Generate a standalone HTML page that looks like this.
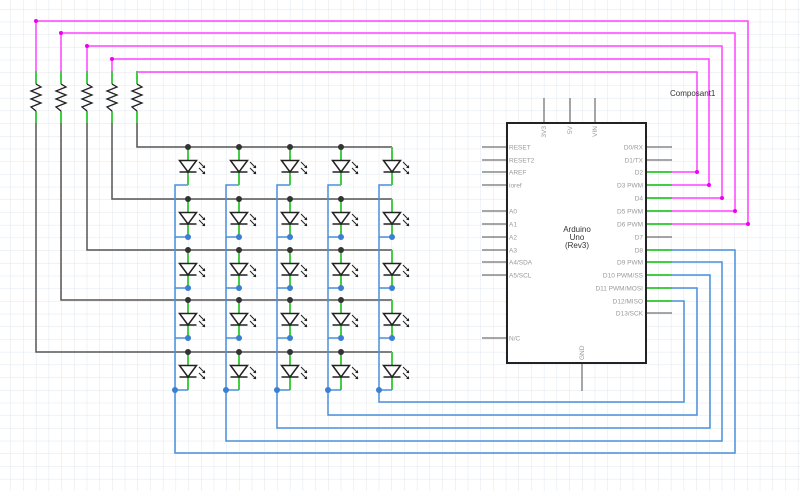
<!DOCTYPE html>
<html><head><meta charset="utf-8"><style>
html,body{margin:0;padding:0;background:#fff;}
svg{display:block;font-family:"Liberation Sans",sans-serif;}
</style></head><body>
<svg width="800" height="491" viewBox="0 0 800 491" xmlns="http://www.w3.org/2000/svg">
<defs>
<pattern id="g" x="10.5" y="9" width="12.7" height="12.7" patternUnits="userSpaceOnUse">
<path d="M0 0V12.7M0 0H12.7" stroke="#e0e7ee" stroke-width="1" fill="none"/>
</pattern>
<g id="led">
 <line x1="0" y1="0" x2="0" y2="13" stroke="#4c4" stroke-width="2"/>
 <line x1="0" y1="25" x2="0" y2="38" stroke="#4c4" stroke-width="2"/>
 <path d="M-8.5 13.5H8.5L0 25Z" fill="#fff" stroke="#222" stroke-width="1.5"/>
 <line x1="-8.5" y1="25" x2="8.5" y2="25" stroke="#222" stroke-width="1.5"/>
 <path d="M11 15l6 6M11 21l6 6" stroke="#222" stroke-width="1"/>
 <path d="M17 21l-3 0 3-3zM17 27l-3 0 3-3z" fill="#222"/>
</g>
<g id="res">
 <line x1="0" y1="71" x2="0" y2="84" stroke="#4c4" stroke-width="2"/>
 <line x1="0" y1="111" x2="0" y2="123" stroke="#4c4" stroke-width="2"/>
 <path d="M0 84L5 87L-5 91L5 95L-5 99L5 103L-5 107L0 111" fill="none" stroke="#222" stroke-width="1.3"/>
</g>
</defs>
<rect width="800" height="491" fill="url(#g)"/>

<g stroke="#f4f" stroke-width="1.5" fill="none">
<path d="M36 71V21H748V224H672"/>
<path d="M61 71V33H735V211H672"/>
<path d="M87 71V46H722V198H672"/>
<path d="M112 71V59H709V185H672"/>
<path d="M137 71V72H697V172H672"/>
</g>
<g fill="#e0e">
<circle cx="36" cy="21" r="2"/><circle cx="61" cy="33" r="2"/><circle cx="87" cy="46" r="2"/><circle cx="112" cy="59" r="2"/>
<circle cx="748" cy="224" r="2"/><circle cx="735" cy="211" r="2"/><circle cx="722" cy="198" r="2"/><circle cx="709" cy="185" r="2"/><circle cx="697" cy="172" r="2"/>
</g>

<use href="#res" x="36"/><use href="#res" x="61"/><use href="#res" x="87"/><use href="#res" x="112"/><use href="#res" x="137"/>

<g stroke="#555" stroke-width="1.5" fill="none">
<path d="M137 123V147H392"/>
<path d="M112 123V199H392"/>
<path d="M87 123V250H392"/>
<path d="M61 123V300H392"/>
<path d="M36 123V352H392"/>
</g>

<g stroke="#4a8fdc" stroke-width="1.5" fill="none">
<path d="M188 185H175V453H735V250H672"/>
<path d="M239 185H226V441H722V262H672"/>
<path d="M290 185H277V428H710V275H672"/>
<path d="M341 185H328V415H697V288H672"/>
<path d="M392 185H379V402H684V301H672"/>
</g>

<g>
<use href="#led" x="188" y="147"/><use href="#led" x="239" y="147"/><use href="#led" x="290" y="147"/><use href="#led" x="341" y="147"/><use href="#led" x="392" y="147"/>
<use href="#led" x="188" y="199"/><use href="#led" x="239" y="199"/><use href="#led" x="290" y="199"/><use href="#led" x="341" y="199"/><use href="#led" x="392" y="199"/>
<use href="#led" x="188" y="250"/><use href="#led" x="239" y="250"/><use href="#led" x="290" y="250"/><use href="#led" x="341" y="250"/><use href="#led" x="392" y="250"/>
<use href="#led" x="188" y="300"/><use href="#led" x="239" y="300"/><use href="#led" x="290" y="300"/><use href="#led" x="341" y="300"/><use href="#led" x="392" y="300"/>
<use href="#led" x="188" y="352"/><use href="#led" x="239" y="352"/><use href="#led" x="290" y="352"/><use href="#led" x="341" y="352"/><use href="#led" x="392" y="352"/>
</g>
<g stroke="#4a8fdc" stroke-width="1.5">
<path d="M188 237H175M239 237H226M290 237H277M341 237H328M392 237H379"/>
<path d="M188 288H175M239 288H226M290 288H277M341 288H328M392 288H379"/>
<path d="M188 338H175M239 338H226M290 338H277M341 338H328M392 338H379"/>
<path d="M188 390H175M239 390H226M290 390H277M341 390H328M392 390H379"/>
</g>
<g fill="#3b7fd0">
<circle cx="175" cy="390" r="3"/><circle cx="226" cy="378" r="0"/><circle cx="226" cy="390" r="3"/><circle cx="277" cy="390" r="3"/><circle cx="328" cy="390" r="3"/><circle cx="379" cy="390" r="3"/>
<circle cx="188" cy="338" r="3"/><circle cx="239" cy="338" r="3"/><circle cx="290" cy="338" r="3"/><circle cx="341" cy="338" r="3"/><circle cx="392" cy="338" r="3"/>
<circle cx="188" cy="288" r="3"/><circle cx="239" cy="288" r="3"/><circle cx="290" cy="288" r="3"/><circle cx="341" cy="288" r="3"/><circle cx="392" cy="288" r="3"/>
<circle cx="188" cy="237" r="3"/><circle cx="239" cy="237" r="3"/><circle cx="290" cy="237" r="3"/><circle cx="341" cy="237" r="3"/><circle cx="392" cy="237" r="3"/>
</g>
<g fill="#333">
<circle cx="188" cy="147" r="3"/><circle cx="239" cy="147" r="3"/><circle cx="290" cy="147" r="3"/><circle cx="341" cy="147" r="3"/>
<circle cx="188" cy="199" r="3"/><circle cx="239" cy="199" r="3"/><circle cx="290" cy="199" r="3"/><circle cx="341" cy="199" r="3"/>
<circle cx="188" cy="250" r="3"/><circle cx="239" cy="250" r="3"/><circle cx="290" cy="250" r="3"/><circle cx="341" cy="250" r="3"/>
<circle cx="188" cy="300" r="3"/><circle cx="239" cy="300" r="3"/><circle cx="290" cy="300" r="3"/><circle cx="341" cy="300" r="3"/>
<circle cx="188" cy="352" r="3"/><circle cx="239" cy="352" r="3"/><circle cx="290" cy="352" r="3"/><circle cx="341" cy="352" r="3"/>
</g>

<g stroke="#888" stroke-width="1.5">
<path d="M544 98V123M570 98V123M595 98V123M582 363V391"/>
<path d="M482 147H507M482 160H507M482 172H507M482 185H507M482 211H507M482 224H507M482 237H507M482 250H507M482 262H507M482 275H507M482 338H507"/>
<path d="M646 147H672M646 160H672M646 237H672M646 313H672"/>
</g>
<g stroke="#4c4" stroke-width="2">
<path d="M646 172H672M646 185H672M646 198H672M646 211H672M646 224H672M646 250H672M646 262H672M646 275H672M646 288H672M646 301H672"/>
</g>
<rect x="507" y="123" width="139" height="240" fill="#fff" stroke="#222" stroke-width="2"/>
<g font-size="6.5" fill="#999">
<text x="509" y="149.5">RESET</text><text x="509" y="162.5">RESET2</text><text x="509" y="174.5">AREF</text><text x="509" y="187.5">ioref</text>
<text x="509" y="213.5">A0</text><text x="509" y="226.5">A1</text><text x="509" y="239.5">A2</text><text x="509" y="252.5">A3</text><text x="509" y="264.5">A4/SDA</text><text x="509" y="277.5">A5/SCL</text><text x="509" y="340.5">N/C</text>
</g>
<g font-size="6.5" fill="#999" text-anchor="end">
<text x="643" y="149.5">D0/RX</text><text x="643" y="162.5">D1/TX</text><text x="643" y="174.5">D2</text><text x="643" y="187.5">D3 PWM</text><text x="643" y="200.5">D4</text><text x="643" y="213.5">D5 PWM</text><text x="643" y="226.5">D6 PWM</text><text x="643" y="239.5">D7</text><text x="643" y="252.5">D8</text><text x="643" y="264.5">D9 PWM</text><text x="643" y="277.5">D10 PWM/SS</text><text x="643" y="290.5">D11 PWM/MOSI</text><text x="643" y="303.5">D12/MISO</text><text x="643" y="315.5">D13/SCK</text>
</g>
<g font-size="6.5" fill="#999">
<text transform="translate(546,126) rotate(-90)" text-anchor="end">3V3</text>
<text transform="translate(572,126) rotate(-90)" text-anchor="end">5V</text>
<text transform="translate(597,126) rotate(-90)" text-anchor="end">VIN</text>
<text transform="translate(584,360) rotate(-90)">GND</text>
</g>
<g font-size="8" fill="#333" text-anchor="middle">
<text x="577" y="232">Arduino</text><text x="577" y="240">Uno</text><text x="577" y="248">(Rev3)</text>
</g>
<text x="670" y="96" font-size="8" fill="#333">Composant1</text>
</svg>
</body></html>
